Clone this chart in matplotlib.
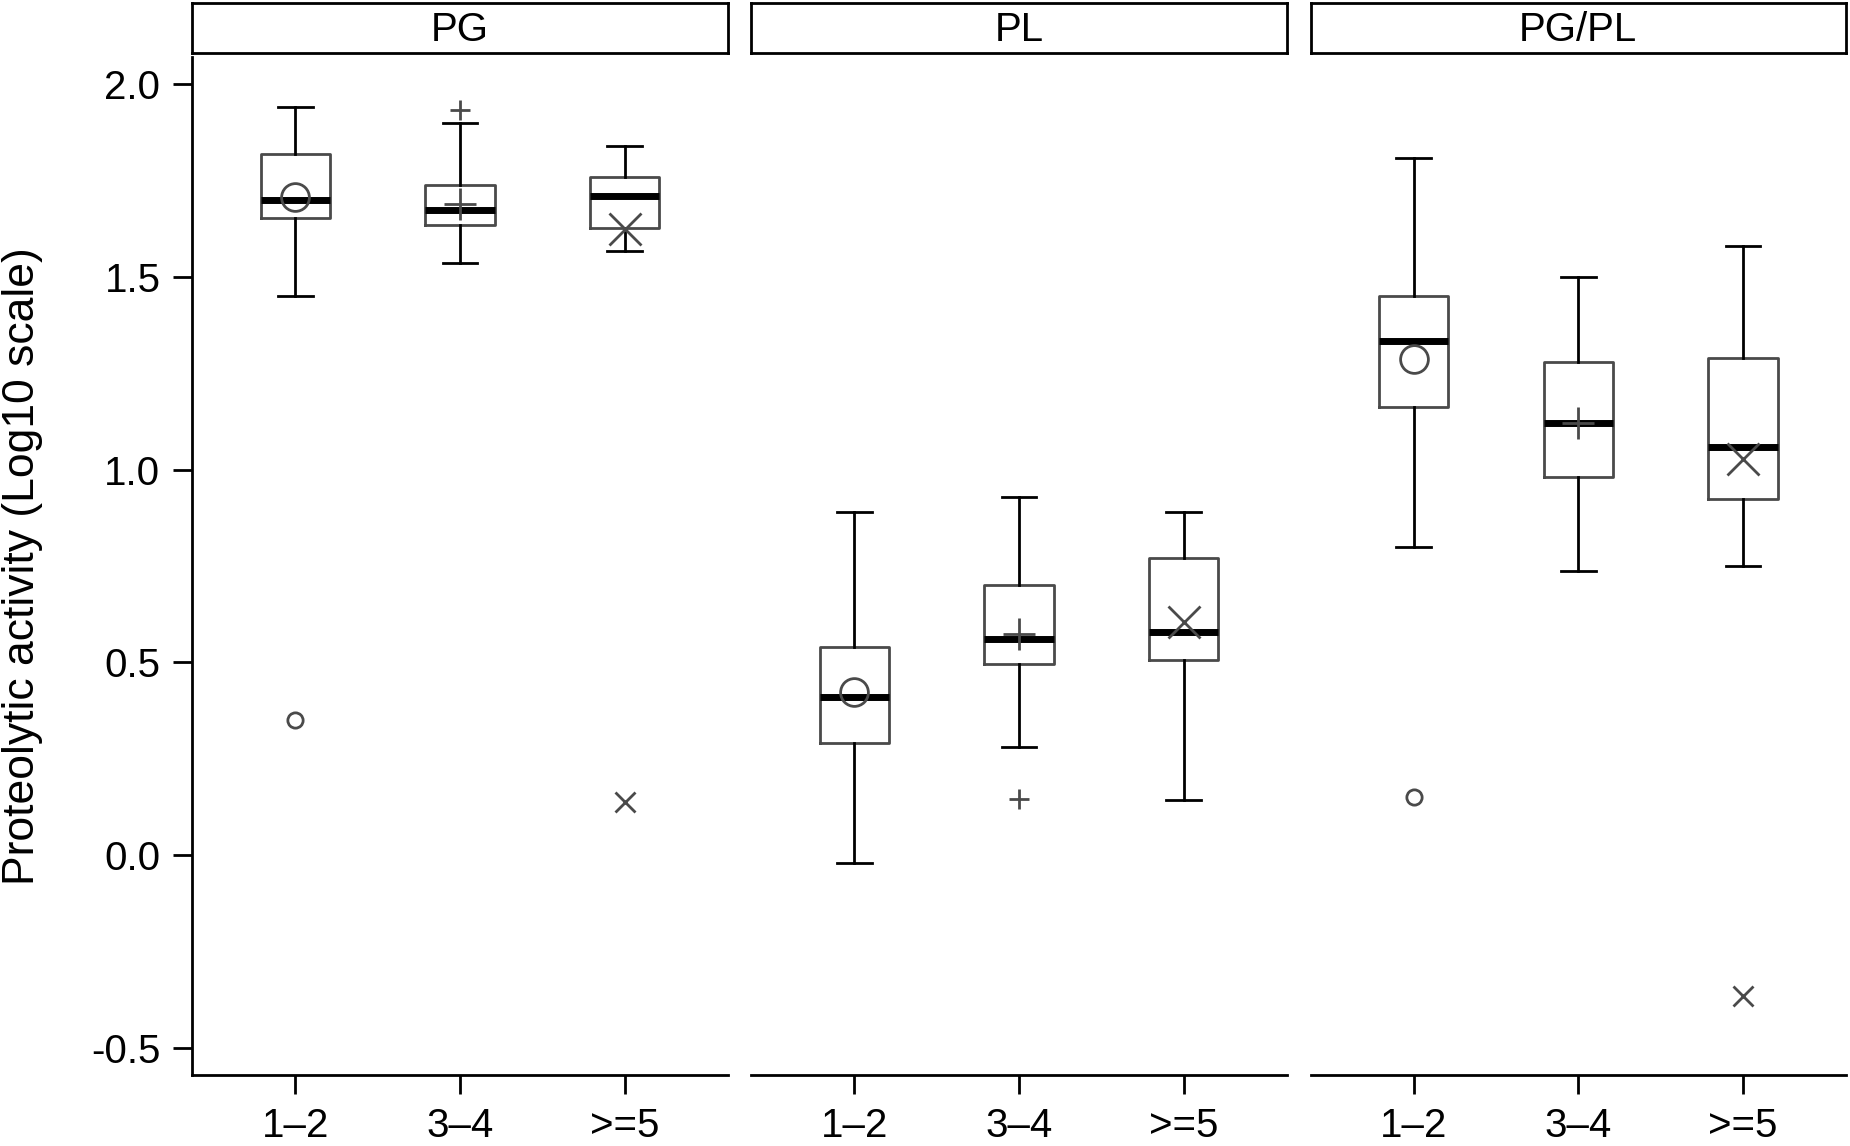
import matplotlib.pyplot as plt

plt.rcParams['font.family'] = ['Liberation Sans', 'DejaVu Sans']

groups = ['PG', 'PL', 'PG/PL']
categories = ['1–2', '3–4', '>=5']
markers = ['o', '+', 'x']

whisker_hi = [[1.94, 1.90, 1.84], [0.89, 0.93, 0.89], [1.81, 1.50, 1.58]]
q3 = [[1.82, 1.74, 1.76], [0.54, 0.70, 0.77], [1.45, 1.28, 1.29]]
median = [[1.70, 1.675, 1.71], [0.41, 0.56, 0.58], [1.335, 1.12, 1.06]]
q1 = [[1.652, 1.636, 1.627], [0.29, 0.497, 0.507], [1.162, 0.982, 0.923]]
whisker_lo = [[1.452, 1.537, 1.567], [-0.02, 0.28, 0.144], [0.80, 0.737, 0.75]]
means = [[1.707, 1.69, 1.625], [0.423, 0.573, 0.605], [1.287, 1.12, 1.028]]
outliers = [[[0.35], [1.932], [0.138]],
            [[], [0.147], []],
            [[0.15], [], [-0.364]]]

yticks = [2.0, 1.5, 1.0, 0.5, 0.0, -0.5]
ytick_labels = ['2.0', '1.5', '1.0', '0.5', '0.0', '-0.5']

fig = plt.figure(figsize=(18.5, 11.46), dpi=100)

lefts = [0.104, 0.4062, 0.7085]
width = 0.2893
bottom = 0.062
top = 0.950
gray = '#4a4a4a'
lw = 2.0
fs = 29

for g, name in enumerate(groups):
    ax = fig.add_axes([lefts[g], bottom, width, top - bottom])
    for c in range(len(categories)):
        stats = [{
            'med': median[g][c], 'q1': q1[g][c], 'q3': q3[g][c],
            'whislo': whisker_lo[g][c], 'whishi': whisker_hi[g][c],
            'fliers': outliers[g][c], 'mean': means[g][c],
        }]
        m = markers[c]
        big = 20 if m == 'o' else 23
        small = 11 if m == 'o' else 14
        ax.bxp(stats, positions=[c + 1], widths=0.42, showmeans=True,
               boxprops=dict(color=gray, linewidth=lw),
               whiskerprops=dict(color='black', linewidth=lw),
               capprops=dict(color='black', linewidth=lw),
               medianprops=dict(color='black', linewidth=5),
               meanprops=dict(marker=m, markersize=big, markerfacecolor='none',
                              markeredgecolor=gray, markeredgewidth=2),
               flierprops=dict(marker=m, markersize=small, markerfacecolor='none',
                               markeredgecolor=gray, markeredgewidth=2))
    ax.set_xlim(0.375, 3.625)
    ax.set_ylim(-0.57, 2.07)
    ax.set_xticks([1, 2, 3])
    ax.set_xticklabels(categories, fontsize=fs)
    for s in ['top', 'right']:
        ax.spines[s].set_visible(False)
    ax.spines['bottom'].set_linewidth(lw)
    ax.spines['left'].set_linewidth(lw)
    ax.tick_params(axis='both', length=14, width=lw, pad=9)
    if g == 0:
        ax.set_yticks(yticks)
        ax.set_yticklabels(ytick_labels, fontsize=fs)
        ax.set_ylabel('Proteolytic activity (Log10 scale)', fontsize=32)
        ax.yaxis.set_label_coords(-0.28, 0.5)
    else:
        ax.spines['left'].set_visible(False)
        ax.set_yticks([])

    strip = fig.add_axes([lefts[g], 0.954, width, 0.0435])
    strip.set_xticks([])
    strip.set_yticks([])
    for s in strip.spines.values():
        s.set_linewidth(lw)
    strip.text(0.5, 0.46, name, ha='center', va='center', fontsize=fs,
               transform=strip.transAxes)

fig.savefig('out.png', dpi=100)
